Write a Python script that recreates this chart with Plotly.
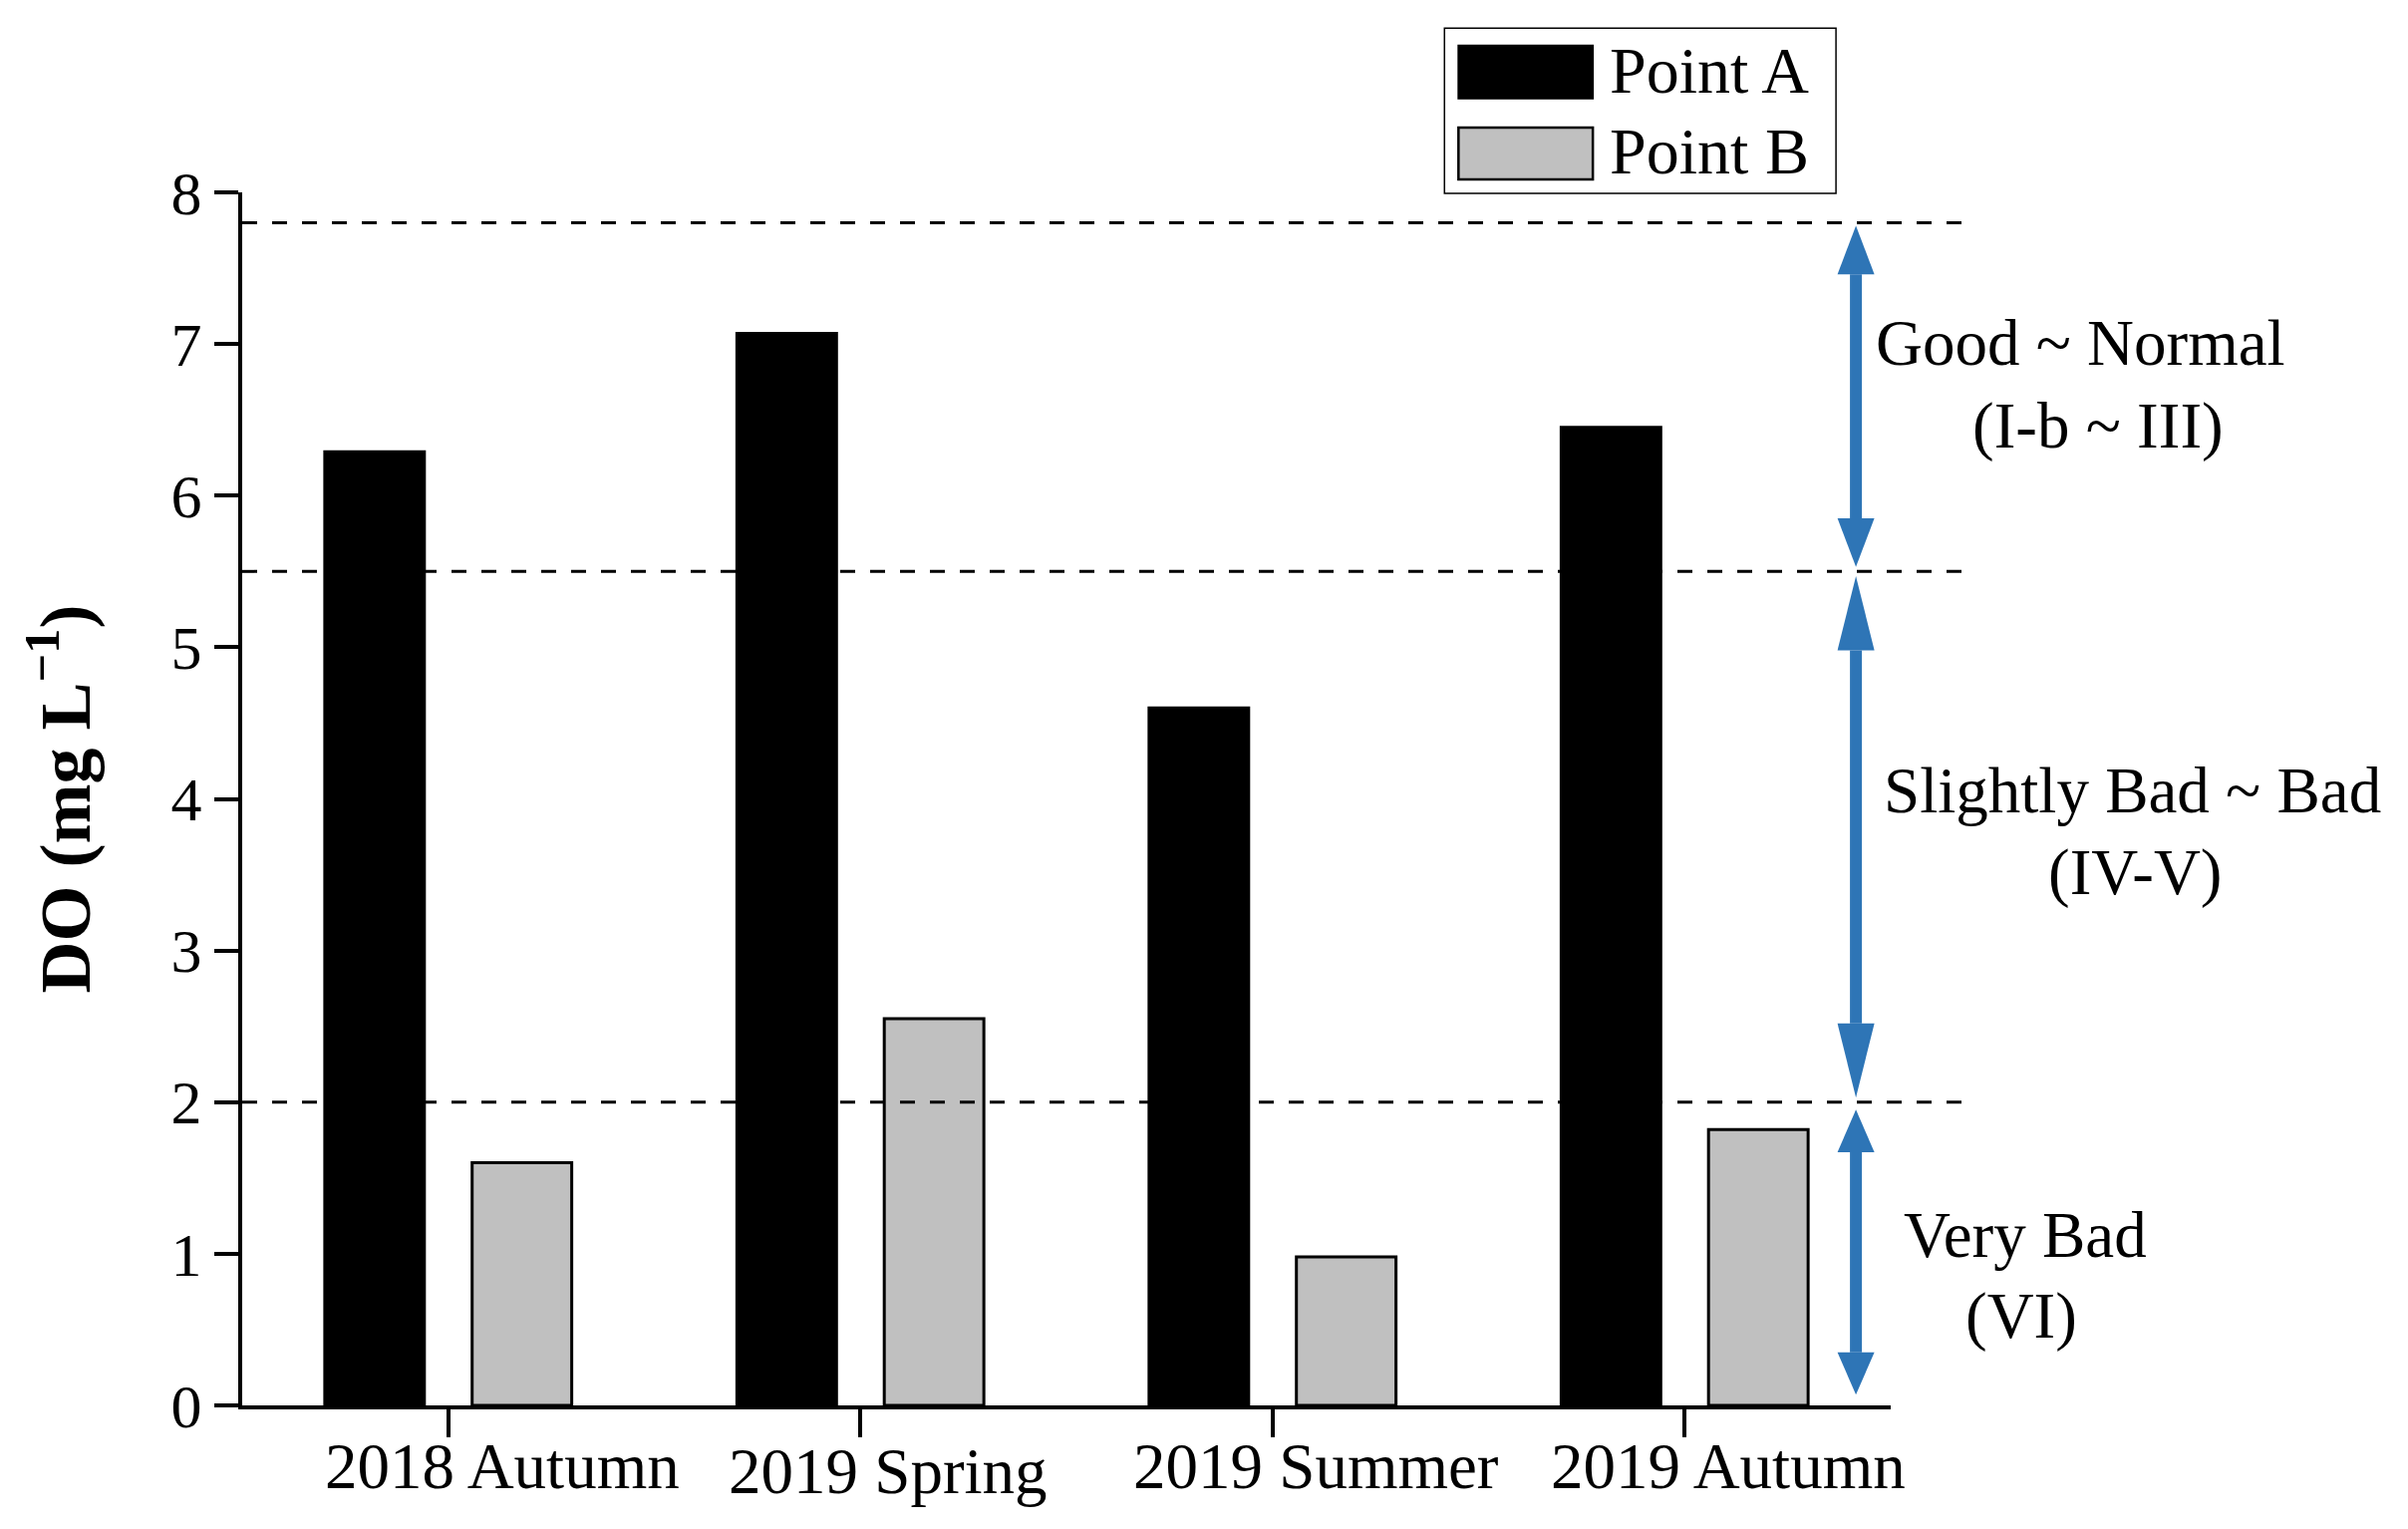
import plotly.graph_objects as go

# ---------------- data ----------------
categories = ["2018 Autumn", "2019 Spring", "2019 Summer", "2019 Autumn"]
point_a = [6.29, 7.07, 4.60, 6.45]
point_b = [1.60, 2.55, 0.98, 1.82]
y_ticks = [0, 1, 2, 3, 4, 5, 6, 7, 8]
thresholds = [7.8, 5.5, 2.0]
band_bounds = [(7.8, 5.5), (5.5, 2.0), (2.0, 0.0)]
band_line1 = ["Good ~ Normal", "Slightly Bad ~ Bad", "Very Bad"]
band_line2 = ["(I-b ~ III)", "(IV-V)", "(VI)"]
series_names = ["Point A", "Point B"]

# ---------------- style ----------------
FONT = "Liberation Serif"
BLUE = "#2E75B6"
GRAY = "#C0C0C0"
PLOT_W, PLOT_H = 1654, 1217

fig = go.Figure()
fig.add_bar(x=list(range(len(categories))), y=point_a, name=series_names[0],
            marker=dict(color="black", line=dict(color="black", width=3)))
fig.add_bar(x=list(range(len(categories))), y=point_b, name=series_names[1],
            marker=dict(color=GRAY, line=dict(color="black", width=3)))

shapes = []
annotations = []

# dashed threshold lines
for t in thresholds:
    shapes.append(dict(type="line", xref="paper", yref="y", x0=0, x1=1.047, y0=t, y1=t,
                       line=dict(color="black", width=3, dash="15px,15px"), layer="above"))

# double arrows for each band
ax = 0.9789
half_w = 18.5 / PLOT_W
head_len = [0.32, 0.49, 0.28]
gap_top = [0.02, 0.03, 0.05]
gap_bot = [0.03, 0.03, 0.07]
for i, (hi, lo) in enumerate(band_bounds):
    tip_hi = hi - gap_top[i]
    tip_lo = lo + gap_bot[i]
    base_hi = tip_hi - head_len[i]
    base_lo = tip_lo + head_len[i]
    shapes.append(dict(type="line", xref="paper", yref="y", x0=ax, x1=ax,
                       y0=base_lo, y1=base_hi, line=dict(color=BLUE, width=12)))
    shapes.append(dict(type="path", xref="paper", yref="y",
                       path=f"M{ax-half_w},{base_hi} L{ax},{tip_hi} L{ax+half_w},{base_hi} Z",
                       fillcolor=BLUE, line=dict(color=BLUE, width=0)))
    shapes.append(dict(type="path", xref="paper", yref="y",
                       path=f"M{ax-half_w},{base_lo} L{ax},{tip_lo} L{ax+half_w},{base_lo} Z",
                       fillcolor=BLUE, line=dict(color=BLUE, width=0)))

# band texts
l1_x = [1.1154, 1.1469, 1.0815]
l1_y = [7.005, 4.055, 1.122]
l2_x = [1.1257, 1.1487, 1.0791]
l2_y = [6.465, 3.515, 0.5925]
for i in range(3):
    annotations.append(dict(text=band_line1[i], xref="paper", yref="y", x=l1_x[i], y=l1_y[i],
                            xanchor="center", yanchor="middle", showarrow=False,
                            font=dict(family=FONT, size=65, color="black")))
    annotations.append(dict(text=band_line2[i], xref="paper", yref="y", x=l2_x[i], y=l2_y[i],
                            xanchor="center", yanchor="middle", showarrow=False,
                            font=dict(family=FONT, size=65, color="black")))

# category labels (placed like the reference, slightly right of each tick)
label_dx = [0.130, 0.068, 0.107, 0.107]
label_y = [-0.0505, -0.0545, -0.0505, -0.0505]
for i, cat in enumerate(categories):
    annotations.append(dict(text=cat, xref="x", yref="paper", x=i + label_dx[i], y=label_y[i],
                            xanchor="center", yanchor="middle", showarrow=False,
                            font=dict(family=FONT, size=65, color="black")))

# manual legend
shapes.append(dict(type="rect", xref="paper", yref="paper", x0=0.7293, x1=0.9668, y0=0.9992, y1=1.1353,
                   line=dict(color="black", width=1.5), fillcolor="white", layer="above"))
shapes.append(dict(type="rect", xref="paper", yref="paper", x0=0.7378, x1=0.8193, y0=1.0774, y1=1.1210,
                   line=dict(color="black", width=2), fillcolor="black", layer="above"))
shapes.append(dict(type="rect", xref="paper", yref="paper", x0=0.7378, x1=0.8193, y0=1.0107, y1=1.0535,
                   line=dict(color="black", width=2.5), fillcolor=GRAY, layer="above"))
for name, yy in zip(series_names, [1.1004, 1.0342]):
    annotations.append(dict(text=name, xref="paper", yref="paper", x=0.8280, y=yy,
                            xanchor="left", yanchor="middle", showarrow=False,
                            font=dict(family=FONT, size=66, color="black")))

# y-axis title
annotations.append(dict(text="<b>DO (mg L<sup>−1</sup>)</b>", xref="paper", yref="paper",
                        x=-0.1107, y=0.5, xanchor="center", yanchor="middle", textangle=-90,
                        showarrow=False, font=dict(family=FONT, size=72, color="black")))

# figure is placed 8px in from the page corner by the default body margin
fig.update_layout(
    width=2400, height=1518,
    margin=dict(l=235, r=2400 - 235 - PLOT_W, t=185, b=1518 - 185 - PLOT_H, pad=0),
    paper_bgcolor="white", plot_bgcolor="white",
    barmode="group", bargap=0.285, bargroupgap=0.324,
    showlegend=False,
    shapes=shapes, annotations=annotations,
    font=dict(family=FONT, color="black"),
)
fig.update_xaxes(range=[-0.5, 3.5], tickvals=list(range(len(categories))), showticklabels=False,
                 showline=True, linecolor="black", linewidth=4,
                 ticks="outside", ticklen=28, tickwidth=4, tickcolor="black",
                 showgrid=False, zeroline=False)
fig.update_yaxes(range=[0, 8], tickvals=y_ticks, showline=True, linecolor="black", linewidth=4,
                 ticks="outside", ticklen=24, tickwidth=4, tickcolor="black",
                 tickfont=dict(family=FONT, size=62, color="black"), showgrid=False, zeroline=False)

fig.write_html("out.html")
